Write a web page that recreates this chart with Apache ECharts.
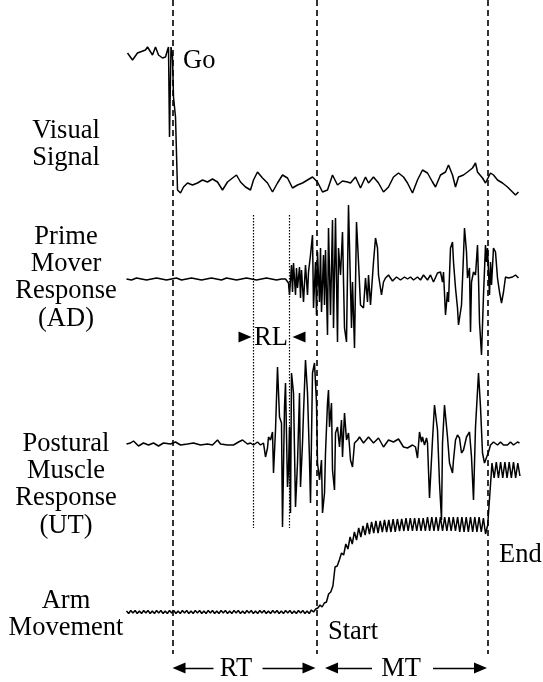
<!DOCTYPE html>
<html><head><meta charset="utf-8">
<script src="https://cdn.jsdelivr.net/npm/echarts/dist/echarts.min.js"></script>
<style>html,body{margin:0;padding:0;background:#fff}#c{width:543px;height:682px}</style>
</head><body><div id="c"></div><script>
// time axis: arbitrary units, 0 = "Go" stimulus
const eventTimes = [0, 144, 315];          // Go, movement Start, movement End
const rlTimes = [81, 117];                 // RL interval bounds

// Visual signal
const visualT = [-45,-40,-35,-27,-25,-20,-17,-14,-10,-7,-5,-4,-3,-1.5,0,1,3,5,8,11,15,20,25,30,35,40,45,50,55,60,64,68,73,78,81,85,90,95,100,105,110,115,120,125,130,135,140,145,150,155,160,165,170,175,178,183,188,193,196,201,206,211,216,221,226,231,235,240,245,250,255,260,263,268,273,276,280,283,286,291,295,300,303,305,310,313,318,321,325,330,335,340,343,346];
const visualV = [133,126,133,136,139,131,139,131,128,129,136,139,49,139,129,89,69,-4,-7,-1,3,1,3,6,4,7,4,-4,4,8,11,4,-1,-4,6,14,8,3,-6,3,11,8,-2,1,3,6,9,4,-6,-4,11,1,5,4,3,9,-2,9,3,9,3,-6,-1,9,13,9,3,-7,6,16,13,4,-1,11,14,21,11,-1,9,11,14,18,23,14,8,3,13,11,6,3,-1,-6,-9,-6];

// Prime mover EMG (AD)
const adT = [-46,-41,-36,-31,-26,-21,-16,-11,-6,-1,4,9,14,19,24,29,34,39,44,49,54,59,64,69,74,79,84,89,94,99,104,109,113,115,116,
117,119,120,121,123,124,125,127,128,129,131,133,135,136,138,140,141,143,144,145,147,148,149,151,152,153,155,156,158,160,161,163,165,166,168,170,172,174,176,179,180,182,184,186,188,191,193,195,196,198,201,203,205,206,209,211,213,216,
220,224,228,232,235,238,241,245,248,251,255,258,261,265,268,270,271,273,275,276,278,280,281,283,285,286,289,291,292,294,295,297,298,299,301,303,305,306,307,309,311,313,314,315,317,318,319,321,323,325,327,329,331,333,336,340,343,346];
const adV = [0,-1,1,0,-1,0,1,0,-1,0,1,-1,0,1,0,-1,0,1,0,-1,1,0,-1,0,1,0,-1,0,1,0,-1,0,0,-1,-4,
-16,14,-13,16,-16,11,-9,12,-19,9,-23,14,-16,7,24,44,-29,17,-36,27,-23,31,-33,24,-26,29,-56,51,-36,59,-49,61,-63,31,4,47,-49,-63,74,-49,-3,-69,57,17,-26,-29,1,-23,4,-26,17,41,31,4,-16,-3,1,4,
-2,2,-1,2,0,2,-1,2,-1,4,-1,4,-3,6,7,-3,7,-36,-13,-23,31,37,17,-9,-29,-46,-26,24,51,27,1,11,-53,-3,7,4,34,1,-43,-76,-16,34,17,31,-16,17,-6,31,27,1,-13,-24,-13,2,1,2,4,1];

// Postural muscle EMG (UT)
const utT = [-46,-42,-39,-34,-29,-24,-19,-14,-9,-2,3,8,15,21,28,35,40,45,48,55,61,66,70,75,78,81,85,88,91,93,95,96,98,100,101,103,105,107,109,110,112,113,115,116,117,118,119,121,123,125,127,128,130,131,133,135,137,138,140,142,144,145,147,149,150,152,153,155,156,157,159,160,162,163,165,167,169,170,172,174,176,178,180,182,185,187,191,196,201,206,211,216,221,226,231,235,240,243,245,247,249,250,252,254,255,257,260,262,265,267,269,270,272,275,277,280,281,283,285,287,289,291,294,297,299,301,303,306,308,310,312,314,316,318,321,325,328,331,335,338,341,345,347];
const utV = [0,1,3,-2,1,-1,1,-2,1,0,2,-1,0,1,-1,0,-1,4,0,-1,-1,2,4,0,1,-1,2,-1,1,-13,-4,7,4,12,-29,14,77,27,21,-83,37,61,-43,-26,17,-69,71,51,-63,-19,51,-43,1,31,84,51,-16,-59,71,81,41,-19,-36,-16,-69,-49,-9,41,54,17,41,-26,-46,11,17,-3,24,-13,31,4,11,-16,-23,1,4,7,1,7,1,6,-3,4,2,5,-3,-4,-1,-3,-14,12,2,7,-1,6,1,-54,4,39,14,-39,-76,1,39,7,-19,-29,-16,4,9,6,-9,-6,7,12,-13,-56,17,71,37,-9,-19,-18,-8,-1,2,-1,2,-1,-1,2,-1,2,1];

// Arm movement (uniformly sampled)
const ARM_T0 = -46, ARM_DT = 2.15;
const armV = [1,-1.5,1.5,-1,1.5,-1.5,1,-1.5,1.5,-1,1.5,-1.5,1,-1.5,1.5,-1,1.5,-1.5,1,-1.5,
1.5,-1,1.5,-1.5,1,-1.5,1.5,-1,1.5,-1.5,1,-1.5,1.5,-1,1.5,-1.5,1,-1.5,1.5,-1,
1.5,-1.5,1,-1.5,1.5,-1,1.5,-1.5,1,-1.5,1.5,-1,1.5,-1.5,1,-1.5,1.5,-1,1.5,-1.5,
1,-1.5,1.5,-1,1.5,-1.5,1,-1.5,1.5,-1,1.5,-1.5,1,-1.5,1.5,-1,1.5,-1.5,1,-1.5,
1.5,-1,1.5,-1.5,1,-1.5,2,0,3,
4,7,5,9,10,18,20,26,45,46,52,59,57,68,63,75,68,80,72,84,75,86,77,89,78,90,79,91,79,91,80,92,80,92,80,93,80,93,81,93,81,
94,81,94,81,94,81,94,81,94,81,95,81,95,81,95,81,95,81,95,81,95,81,95,81,95,80,95,80,95,80,95,80,95,80,95,80,
94,78,87,118,149,134,150,134,150,134,150,134,150,134,150,134,149,136];

const traceLabels = [['Visual','Signal'],['Prime','Mover','Response','(AD)'],['Postural','Muscle','Response','(UT)'],['Arm','Movement']];
const intervalLabels = ['RT','MT','RL'];

// ---------- layout ----------
const FONT = '"Liberation Serif","Times New Roman",serif';
const FS = 26.5;
const labelCenters = [131, 237, 444, 601];
const LINE_GAP = 27.2;

const zip = (T, V) => T.map((t, i) => [t, V[i]]);
const armData = armV.map((v, i) => [ARM_T0 + i * ARM_DT, v]);

const base = {type:'line', symbol:'none', showSymbol:false, silent:true, animation:false, clip:false,
  lineStyle:{color:'#000', width:1.5}};

function txt(str, x, y, align) {
  return {type:'text', x:x, y:y, silent:true,
    style:{text:str, font:FS+'px '+FONT, fill:'#000', textAlign:align, align:align,
      textVerticalAlign:'middle', verticalAlign:'middle'}};
}
const graphics = [];
traceLabels.forEach((lines, k) => {
  lines.forEach((s, j) => graphics.push(txt(s, 66, labelCenters[k] + j*LINE_GAP, 'center')));
});
graphics.push(txt('Go', 183, 61, 'left'));
graphics.push(txt('Start', 328, 632, 'left'));
graphics.push(txt('End', 499, 555, 'left'));
graphics.push(txt(intervalLabels[0], 236, 669, 'center'));
graphics.push(txt(intervalLabels[1], 401, 669, 'center'));
graphics.push(txt(intervalLabels[2], 271, 338, 'center'));

const ARROW_Y = -224;   // in UT units
const tri = {symbol:'triangle', symbolSize:[11,13]};
const none = {symbol:'none'};

const option = {
  animation:false,
  grid:{left:122.5, width:400, top:0, height:682, show:false},
  xAxis:{type:'value', min:-50, max:350, show:false},
  yAxis:[
    {type:'value', min:-496, max:186, show:false},
    {type:'value', min:-403, max:279, show:false},
    {type:'value', min:-238, max:444, show:false},
    {type:'value', min:-70, max:612, show:false}
  ],
  series:[
    Object.assign({}, base, {name:'Visual', yAxisIndex:0, data:zip(visualT, visualV)}),
    Object.assign({}, base, {name:'AD', yAxisIndex:1, data:zip(adT, adV),
      markLine:{silent:true, animation:false, symbol:'none', label:{show:false},
        lineStyle:{color:'#000', width:1.2, type:[1.5,1.5]},
        data: rlTimes.map(t => [{coord:[t, 64]}, {coord:[t, -249]}])},
      markPoint:{silent:true, animation:false, label:{show:false},
        itemStyle:{color:'#000'},
        data:[
          {coord:[rlTimes[0]-8.5, -58], symbol:'path://M0,0L13,5.5L0,11Z', symbolSize:[13,11]},
          {coord:[rlTimes[1]+9.5, -58], symbol:'path://M13,0L0,5.5L13,11Z', symbolSize:[13,11]}
        ]}
    }),
    Object.assign({}, base, {name:'UT', yAxisIndex:2, data:zip(utT, utV),
      markLine:{silent:true, animation:false, label:{show:false},
        lineStyle:{color:'#000', width:1.3, type:'solid'},
        data:[
          [Object.assign({coord:[eventTimes[0]+6.5, ARROW_Y]}, tri), Object.assign({coord:[41, ARROW_Y]}, none)],
          [Object.assign({coord:[90, ARROW_Y]}, none), Object.assign({coord:[eventTimes[1]-7.5, ARROW_Y]}, tri)],
          [Object.assign({coord:[159, ARROW_Y]}, tri), Object.assign({coord:[199.5, ARROW_Y]}, none)],
          [Object.assign({coord:[260.5, ARROW_Y]}, none), Object.assign({coord:[eventTimes[2]-7, ARROW_Y]}, tri)]
        ]}
    }),
    Object.assign({}, base, {name:'Arm', yAxisIndex:3, data:armData,
      markLine:{silent:true, animation:false, symbol:'none', label:{show:false},
        lineStyle:{color:'#000', width:1.6, type:[6,4]},
        data: eventTimes.map(t => [{coord:[t, 612]}, {coord:[t, -42]}])}
    })
  ],
  graphic: graphics
};
const chart = echarts.init(document.getElementById('c'));
chart.setOption(option);
</script></body></html>
